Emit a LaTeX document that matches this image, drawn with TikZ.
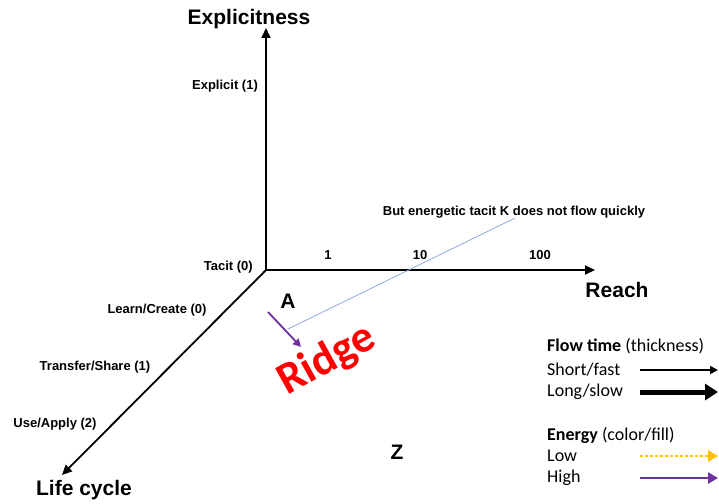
\documentclass[tikz,border=0pt]{standalone}
\usepackage{fontspec}
\setmainfont{Liberation Sans}
\newfontfamily\calib{Carlito}
\usetikzlibrary{arrows.meta}
\definecolor{purp}{HTML}{7030A0}
\definecolor{gold}{HTML}{FFC000}
\definecolor{lblue}{HTML}{8FAADC}
\begin{document}
\begin{tikzpicture}[x=1pt,y=-1pt,
  axis/.style={line width=1.8pt, -{Triangle[length=10pt,width=9pt]}},
  small/.style={font=\fontsize{13}{15}\selectfont\bfseries, inner sep=0},
  big/.style={font=\fontsize{21}{25}\selectfont\bfseries, inner sep=0},
  leg/.style={font=\calib\fontsize{18}{21}\selectfont, anchor=west, inner sep=0}]
\useasboundingbox (0,0) rectangle (719,503);
% axes
\coordinate (O) at (266,270);
\coordinate (Ytip) at (266,28);
\coordinate (Xtip) at (595,270);
\coordinate (Ztip) at (62,475);
\draw[axis] (O) -- (Ytip);
\draw[axis] (O) -- (Xtip);
\draw[axis] (O) -- (Ztip);
% axis titles
\node[big] (explicitness) at (249,19) {Explicitness};
\node[big] (reach) at (617,290) {Reach};
\node[big] (life) at (84,490) {Life cycle};
% tick labels
\node[small] (explicit) at (225,86) {Explicit (1)};
\node[small, anchor=east] (tacit) at (253,267) {Tacit (0)};
\node[small] (r1) at (328,255) {1};
\node[small] (r10) at (420,255) {10};
\node[small] (r100) at (540,255) {100};
\node[small] (learn) at (157,310) {Learn/Create (0)};
\node[small] (transfer) at (95,367) {Transfer/Share (1)};
\node[small] (use) at (55,424) {Use/Apply (2)};
% annotations
\node[big] (A) at (288,301) {A};
\node[big] (Z) at (397,452) {Z};
\node[small] (note) at (514,212) {But energetic tacit K does not flow quickly};
\coordinate (b1) at (288,329);
\coordinate (b2) at (515,218);
\draw[lblue, line width=0.8pt] (b1) -- (b2);
\coordinate (pa) at (268,312);
\coordinate (pb) at (301,347);
\draw[purp, line width=1.8pt, -{Triangle[length=8pt,width=8pt]}] (pa) -- (pb);
\node[rotate=29, text=red, inner sep=0, font=\calib\bfseries\fontsize{45}{50}\selectfont] (ridge) at (327,360) {Ridge};
% legend
\node[leg] (ft) at (547,346) {\textbf{Flow time} (thickness)};
\node[leg] (sf) at (547,370) {Short/fast};
\node[leg] (ls) at (547,392) {Long/slow};
\node[leg] (en) at (547,435) {\textbf{Energy} (color/fill)};
\node[leg] (lo) at (547,456) {Low};
\node[leg] (hi) at (547,478) {High};
\coordinate (sfa) at (640,370); \coordinate (sfb) at (718,370);
\coordinate (lsa) at (640,392); \coordinate (lsb) at (718,392);
\coordinate (loa) at (640,456); \coordinate (lob) at (718,456);
\coordinate (hia) at (640,478); \coordinate (hib) at (718,478);
\draw[line width=1.8pt, -{Triangle[length=8pt,width=8pt]}] (sfa) -- (sfb);
\draw[line width=5pt, -{Triangle[length=13pt,width=16pt]}] (lsa) -- (lsb);
\draw[gold, line width=2.8pt, dash pattern=on 2.5pt off 2.5pt, -{Triangle[length=10pt,width=11pt]}] (loa) -- (lob);
\draw[purp, line width=2.8pt, -{Triangle[length=10pt,width=11pt]}] (hia) -- (hib);
\end{tikzpicture}
\end{document}
